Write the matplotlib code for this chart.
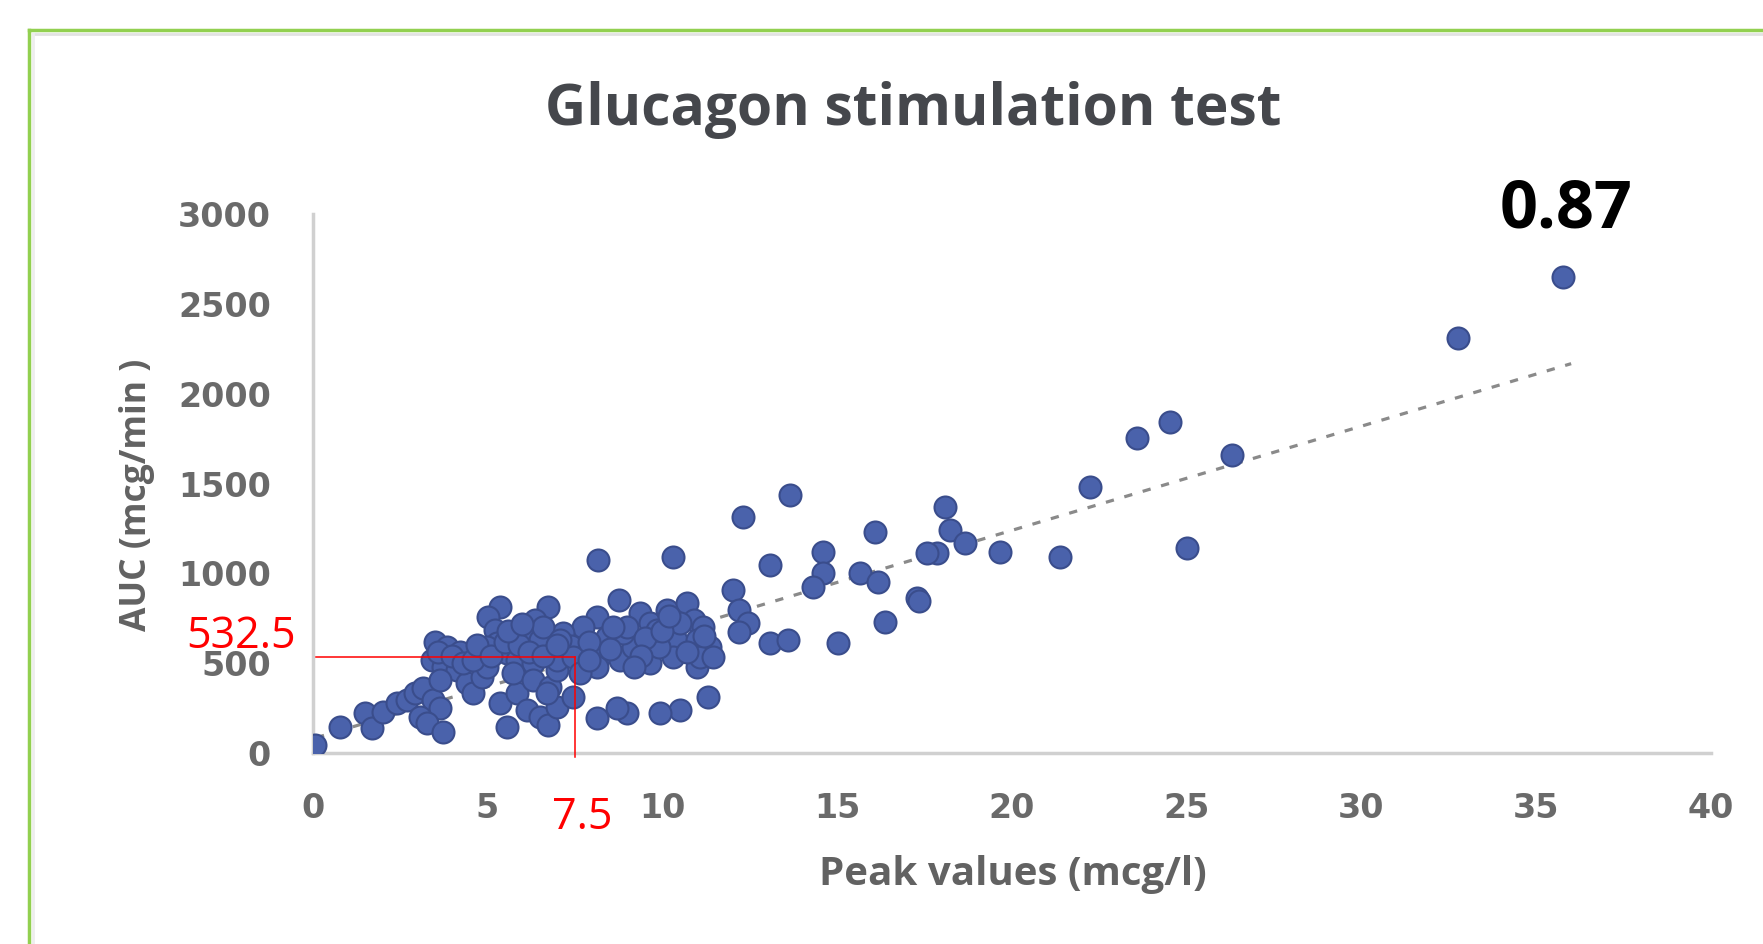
import matplotlib
matplotlib.use("Agg")
import matplotlib.pyplot as plt
from matplotlib.lines import Line2D

# ---------------- data ----------------
peak_x = [0.07, 0.78, 1.50, 1.69, 2.02, 2.41, 2.69, 2.93, 3.17, 3.45, 3.64, 3.07, 3.26, 3.74,
          3.50, 3.84, 4.22, 3.41, 3.74, 4.12, 3.64, 4.41, 4.60, 4.84, 4.98, 5.36, 5.03, 5.22,
          5.27, 5.55, 4.98, 6.74, 6.36, 6.12, 6.50, 6.89, 5.84, 6.31, 5.36, 5.55, 5.84, 6.12,
          6.50, 6.74, 6.98, 5.74, 6.31, 6.79, 6.98,
          8.17, 10.32, 12.32, 13.08, 12.03, 12.20, 12.46, 12.20, 13.08, 13.60, 11.32, 10.50,
          9.94, 8.98, 8.70, 8.13, 7.46, 8.75, 9.37, 9.65, 8.13, 7.74, 7.17, 7.40, 8.30, 8.80,
          8.13, 9.65, 9.17, 10.13, 10.70, 10.90, 11.17, 10.40, 11.00, 11.37, 11.00, 10.30,
          9.90, 6.98, 6.60, 7.08, 7.46, 7.65, 6.70, 8.41, 8.89, 9.84, 10.51, 11.08, 11.46,
          13.65, 16.09, 18.09, 18.23, 18.66, 17.85, 17.57, 19.66, 21.38, 22.24, 14.60, 14.60,
          14.32, 15.66, 16.18, 17.28, 17.35, 16.37, 15.04,
          23.57, 24.53, 26.29, 25.00, 32.77, 35.76,
          3.60, 4.00, 4.30, 4.60, 4.70, 5.10, 5.50, 5.90, 6.20, 6.60, 7.00, 5.60, 6.00,
          7.90, 8.50, 9.00, 9.50, 10.00, 10.70, 10.20, 11.20, 9.40, 7.90, 8.60, 9.20]
auc_y = [45, 146, 221, 137, 230, 277, 295, 332, 360, 295, 249, 202, 165, 119,
         619, 592, 564, 518, 480, 462, 406, 388, 332, 425, 480, 814, 759, 684,
         610, 555, 592, 814, 740, 675, 629, 555, 518, 499, 277, 146, 332, 239,
         202, 156, 258, 443, 406, 369, 462,
         1074, 1093, 1315, 1044, 907, 796, 723, 675, 612, 629, 313, 239,
         222, 222, 250, 194, 313, 851, 778, 723, 759, 703, 667, 593, 556, 517,
         480, 500, 592, 796, 834, 740, 703, 629, 629, 592, 480, 536,
         592, 517, 703, 629, 536, 443, 332, 647, 666, 684, 722, 536, 536,
         1436, 1232, 1371, 1241, 1167, 1111, 1111, 1120, 1092, 1482, 1120, 1000,
         925, 1000, 953, 861, 845, 731, 610,
         1751, 1844, 1658, 1139, 2312, 2650,
         560, 540, 500, 520, 600, 540, 620, 600, 560, 540, 600, 680, 720,
         620, 580, 700, 640, 680, 560, 760, 650, 540, 520, 700, 480]

trend_x = [0.1, 36.0]
trend_y = [85, 2167]

x_ticks = [0, 5, 10, 15, 20, 25, 30, 35, 40]
y_ticks = [0, 500, 1000, 1500, 2000, 2500, 3000]

mark_x = 7.5
mark_y = 532.5
r_value = "0.87"

title = "Glucagon stimulation test"
xlabel = "Peak values (mcg/l)"
ylabel = "AUC (mcg/min )"

# ---------------- figure ----------------
W, H = 1763, 944
fig = plt.figure(figsize=(W / 100, H / 100), dpi=100)
fig.patch.set_facecolor("white")

def fx(px):
    return px / W

def fy(py):
    return 1 - py / H

# green frame (left and top) with faint inner shadow
fig.add_artist(Line2D([fx(29), fx(29)], [fy(30), fy(H + 5)], color="#92d050", lw=2.5,
                      transform=fig.transFigure))
fig.add_artist(Line2D([fx(29), fx(W + 5)], [fy(30), fy(30)], color="#92d050", lw=2.5,
                      transform=fig.transFigure))
fig.add_artist(Line2D([fx(33), fx(W + 5)], [fy(34), fy(34)], color="#e2e2e2", lw=2,
                      transform=fig.transFigure))
fig.add_artist(Line2D([fx(33), fx(33)], [fy(34), fy(H + 5)], color="#eeeeee", lw=2,
                      transform=fig.transFigure))

x0, x1 = 312.6, 1711.0
y0, y1 = 753.0, 214.0
ax = fig.add_axes([fx(x0), fy(y0), (x1 - x0) / W, (y0 - y1) / H])
ax.set_xlim(0, 40)
ax.set_ylim(0, 3000)
ax.set_facecolor("none")

for s in ["top", "right"]:
    ax.spines[s].set_visible(False)
for s in ["left", "bottom"]:
    ax.spines[s].set_color("#d0d0d0")
    ax.spines[s].set_linewidth(2.5)

ax.set_xticks(x_ticks)
ax.set_yticks(y_ticks)
ax.tick_params(length=0, labelsize=24)
ax.tick_params(axis="y", pad=30)
ax.tick_params(axis="x", pad=28)
for lab in ax.get_xticklabels() + ax.get_yticklabels():
    lab.set_family("DejaVu Sans")
    lab.set_fontweight("bold")
    lab.set_color("#6a6a6a")

# trendline
ax.plot(trend_x, trend_y, color="#8a8a8a", lw=2.3, dashes=(2.6, 3.4), zorder=2)

# scatter
ax.scatter(peak_x, auc_y, s=250, facecolor="#4a62ab", edgecolor="#3a4d8c",
           linewidth=1.5, zorder=3)

# red guide lines
ax.plot([0.1, mark_x], [mark_y, mark_y], color="#ff0000", lw=1.1, zorder=4, clip_on=False)
ax.plot([mark_x, mark_x], [mark_y, -25], color="#ff0000", lw=1.1, zorder=4, clip_on=False)

# texts
fig.text(fx(913), fy(110), title, ha="center", va="center", fontsize=41,
         fontweight="bold", color="#45474c", family="Open Sans")
fig.text(fx(1013), fy(875), xlabel, ha="center", va="center", fontsize=29,
         fontweight="bold", color="#626262", family="Open Sans")
fig.text(fx(137), fy(495), ylabel, ha="center", va="center", fontsize=25.5,
         fontweight="bold", color="#626262", family="Open Sans", rotation=90)
fig.text(fx(1566), fy(210), r_value, ha="center", va="center", fontsize=48,
         fontweight="bold", color="black", family="Open Sans")
fig.text(fx(241), fy(637), f"{mark_y}", ha="center", va="center", fontsize=31,
         color="#ff0000", family="Open Sans")
fig.text(fx(582), fy(818), f"{mark_x}", ha="center", va="center", fontsize=31,
         color="#ff0000", family="Open Sans")

fig.savefig("out.png", dpi=100, facecolor="white")
